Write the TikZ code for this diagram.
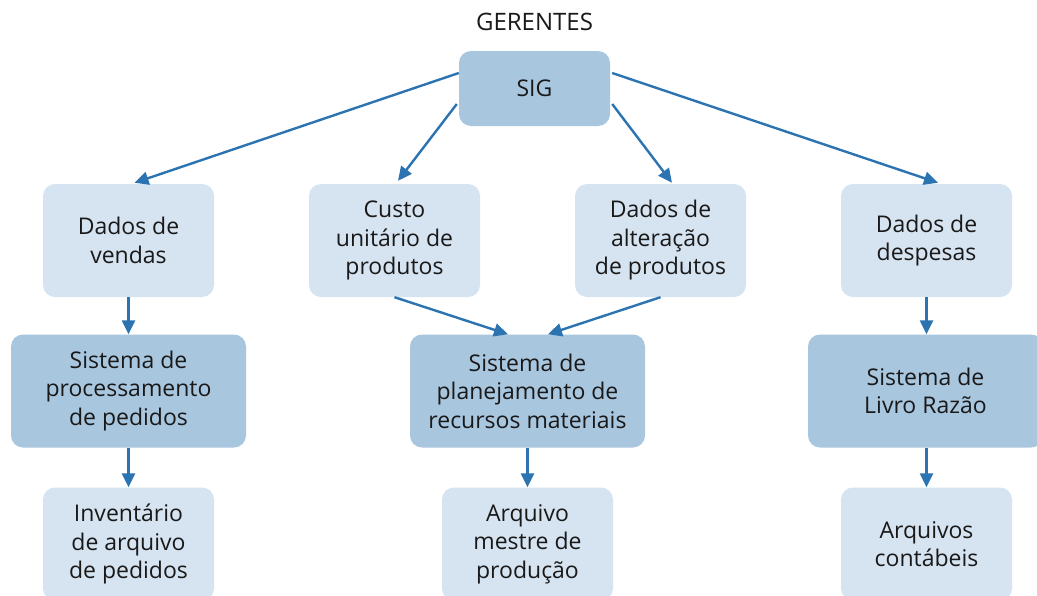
\documentclass[tikz,border=0pt]{standalone}
\usepackage{fontspec}
\setmainfont{Open Sans}
\usetikzlibrary{arrows.meta}
\definecolor{darkbox}{HTML}{A9C6DF}
\definecolor{lightbox}{HTML}{D6E3F0}
\definecolor{arrowblue}{HTML}{2B73B1}
\begin{document}
\begin{tikzpicture}[x=1pt,y=1pt,
  base/.style={rectangle, rounded corners=12pt, inner sep=0pt, align=center,
    font=\fontsize{23}{28.5}\selectfont, text=black!90},
  lightnode/.style={base, fill=lightbox, minimum width=171pt, minimum height=113pt},
  darknode/.style={base, fill=darkbox, minimum width=235pt, minimum height=113pt},
  conn/.style={draw=arrowblue, line width=2.4pt, -{Triangle[length=14pt,width=13pt]}}]
\useasboundingbox (0,0) rectangle (1037,-595);
\fill[white] (0,0) rectangle (1037,-595);
\node[font=\fontsize{24}{24}\selectfont, text=black!90] (ger) at (534.5,-22) {GERENTES};
\node[base, fill=darkbox, minimum width=151pt, minimum height=75pt] (sig) at (534.5,-88.5) {SIG};
\node[lightnode] (vend) at (128.5,-240.5) {Dados de\\vendas};
\node[lightnode] (custo) at (394.5,-240.5) {Custo\\unitário de\\produtos};
\node[lightnode] (alt) at (660.5,-240.5) {Dados de\\alteração\\de produtos};
\node[lightnode] (desp) at (926.5,-240.5) {Dados de\\despesas};
\node[darknode] (proc) at (128.5,-391) {Sistema de\\processamento\\de pedidos};
\node[darknode] (plan) at (527.5,-391) {Sistema de\\planejamento de\\recursos materiais};
\node[darknode] (livro) at (925.5,-391) {Sistema de\\Livro Razão};
\node[lightnode] (inv) at (128.5,-544) {Inventário\\de arquivo\\de pedidos};
\node[lightnode] (arq) at (527.5,-544) {Arquivo\\mestre de\\produção};
\node[lightnode] (cont) at (926.5,-544) {Arquivos\\contábeis};
\draw[conn] ([yshift=15.5pt]sig.west) -- ([xshift=6pt,yshift=1pt]vend.north);
\draw[conn] ([yshift=-15.5pt,xshift=-2pt]sig.west) -- ([xshift=3.5pt,yshift=3pt]custo.north);
\draw[conn] ([yshift=-15.5pt,xshift=2pt]sig.east) -- ([xshift=11.5pt,yshift=1pt]alt.north);
\draw[conn] ([yshift=15.5pt,xshift=2pt]sig.east) -- ([xshift=11.5pt,yshift=1pt]desp.north);
\draw[conn] (vend.south) -- (proc.north);
\draw[conn] (proc.south) -- (inv.north);
\draw[conn] (custo.south) -- ([xshift=-19.5pt]plan.north);
\draw[conn] (alt.south) -- ([xshift=20.5pt]plan.north);
\draw[conn] (plan.south) -- (arq.north);
\draw[conn] (desp.south) -- ([xshift=1pt]livro.north);
\draw[conn] ([xshift=1pt]livro.south) -- (cont.north);
\end{tikzpicture}
\end{document}
